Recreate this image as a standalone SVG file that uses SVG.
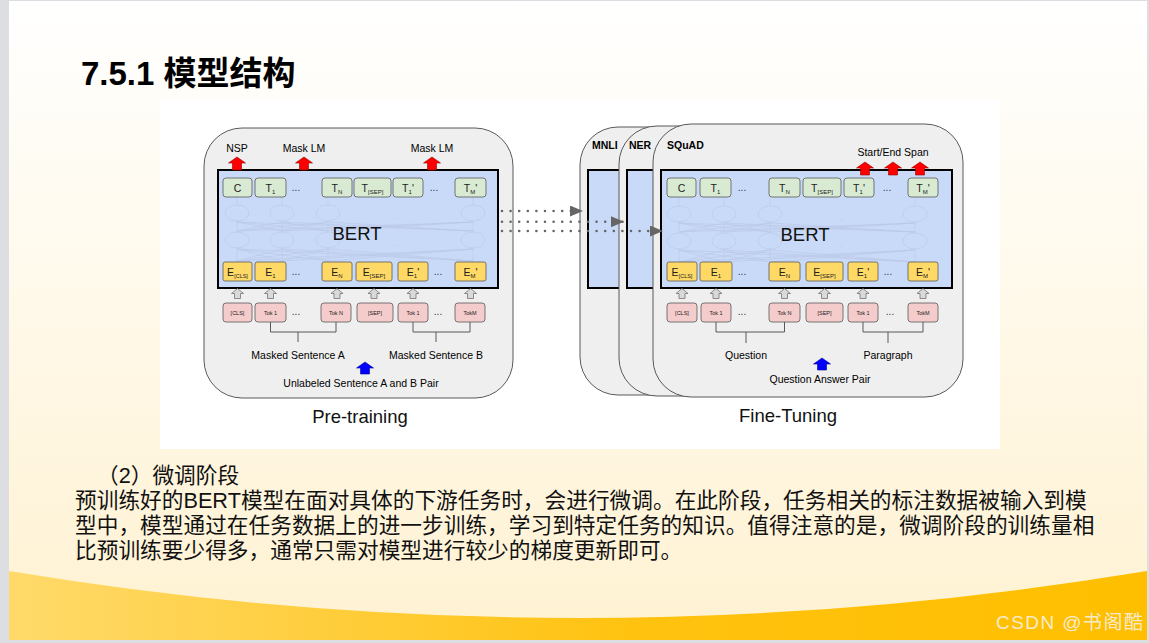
<svg xmlns="http://www.w3.org/2000/svg" width="1149" height="643" viewBox="0 0 1149 643">
<defs>
<style>
.card{fill:#efefef;stroke:#595959;stroke-width:1}
.bert{fill:#c9daf8;stroke:#000;stroke-width:2}
.gb{fill:#d9ead3;stroke:#595959;stroke-width:0.8}
.yb{fill:#ffd966;stroke:#595959;stroke-width:0.8}
.pb{fill:#f4cccc;stroke:#595959;stroke-width:0.8}
text{font-family:"Liberation Sans",Arial,"Noto Sans CJK SC",sans-serif;fill:#000}
.lbl{font-size:10.5px;text-anchor:middle}
.bx{font-size:10.5px;text-anchor:middle;fill:#222}
.tok{font-size:5.5px;text-anchor:middle;fill:#222}
.ell{font-size:10px;text-anchor:middle;fill:#333}
.big{font-size:18.5px;text-anchor:middle;fill:#111}
.hd{font-size:10.5px;font-weight:bold}
.net{stroke:#bac9e6;stroke-width:0.7;fill:none}
.dot{stroke:#666;stroke-width:2.6;stroke-linecap:round;stroke-dasharray:0 8.6;fill:none}
.red{fill:#ff0000;stroke:#990000;stroke-width:0.6}
.gra{fill:#d9d9d9;stroke:#666;stroke-width:0.7}
.blu{fill:#0000ff;stroke:#000099;stroke-width:0.6}
.brk{stroke:#595959;stroke-width:1;fill:none}
.body{font-family:"Liberation Sans","Noto Sans CJK SC",sans-serif;font-size:21.7px;fill:#111}
</style>
<linearGradient id="bg" x1="0" y1="0" x2="0" y2="1">
<stop offset="0" stop-color="#ffffff"/>
<stop offset="1" stop-color="#fff2d2"/>
</linearGradient>
<linearGradient id="band" x1="0" y1="0" x2="1" y2="0">
<stop offset="0" stop-color="#ffda6b"/>
<stop offset="0.55" stop-color="#ffc20f"/>
<stop offset="1" stop-color="#ffbf00"/>
</linearGradient>
<path id="ra" d="M0,0 L8.5,6 L4.5,6 L4.5,13 L-4.5,13 L-4.5,6 L-8.5,6 Z"/>
<path id="ga" d="M0,0 L6,5 L3,5 L3,10 L-3,10 L-3,5 L-6,5 Z"/>
<path id="ba" d="M0,0 L8.5,6 L4.5,6 L4.5,12 L-4.5,12 L-4.5,6 L-8.5,6 Z"/>
<marker id="ah" markerUnits="userSpaceOnUse" markerWidth="14" markerHeight="11" refX="13" refY="5.5" orient="auto">
<path d="M0,0 L13,5.5 L0,11 Z" fill="#666"/>
</marker>
<g id="net">
<g class="net">
<ellipse cx="237" cy="213" rx="12" ry="8"/><ellipse cx="282" cy="213" rx="12" ry="8"/><ellipse cx="328" cy="213" rx="12" ry="8"/><ellipse cx="473" cy="213" rx="12" ry="8"/>
<ellipse cx="237" cy="240" rx="12" ry="8"/><ellipse cx="282" cy="240" rx="12" ry="8"/><ellipse cx="328" cy="240" rx="12" ry="8"/><ellipse cx="473" cy="240" rx="12" ry="8"/>
<path d="M237,197V205M282,197V205M328,197V205M473,197V205M237,221V232M282,221V232M328,221V232M473,221V232M237,248V262M282,248V262M328,248V262M473,248V262"/>
<path d="M237,231L282,222M237,231L328,222M237,231L473,222M282,231L237,222M282,231L328,222M282,231L473,222M328,231L237,222M328,231L282,222M328,231L473,222M473,231L237,222M473,231L282,222M473,231L328,222"/>
<path d="M237,261L282,249M237,261L328,249M237,261L473,249M282,261L237,249M282,261L328,249M282,261L473,249M328,261L237,249M328,261L282,249M328,261L473,249M473,261L237,249M473,261L282,249M473,261L328,249"/>
</g>
<text x="398" y="219" style="font-size:8px;fill:#bac9e6;text-anchor:middle">...</text>
<text x="398" y="246" style="font-size:8px;fill:#bac9e6;text-anchor:middle">...</text>
</g>
</defs>

<rect x="0" y="0" width="1149" height="643" fill="#dcdee2"/>
<rect x="9" y="1" width="1138" height="639" fill="url(#bg)"/>
<path d="M9,571 Q578,665 1147,571 V640 H9 Z" fill="url(#band)"/>
<rect x="160" y="100" width="840" height="349" fill="#ffffff"/>

<text x="81" y="85" style="font-size:33px;font-weight:bold;fill:#000">7.5.1 模型结构</text>

<g id="pretraining">
<rect class="card" x="204" y="128" width="309" height="270" rx="38" ry="38"/>
<rect class="bert" x="218" y="170" width="280" height="118"/>
<use href="#net"/>
<text x="357" y="240" class="big">BERT</text>
<g id="pt-labels">
<text x="237" y="152" class="lbl">NSP</text>
<text x="304" y="152" class="lbl">Mask LM</text>
<text x="432" y="152" class="lbl">Mask LM</text>
<use href="#ra" class="red" x="237" y="157"/>
<use href="#ra" class="red" x="304" y="157"/>
<use href="#ra" class="red" x="432" y="157"/>
</g>
<g id="pt-t-c"><rect class="gb" x="223" y="178" width="29" height="19" rx="3"/><text class="bx" x="237.5" y="191.5">C</text></g>
<g id="pt-t-1"><rect class="gb" x="255" y="178" width="31" height="19" rx="3"/><text class="bx" x="270.5" y="191.5">T<tspan dy="2.5" style="font-size:6px">1</tspan></text></g>
<text class="ell" x="296" y="191">...</text>
<g id="pt-t-n"><rect class="gb" x="322" y="178" width="30" height="19" rx="3"/><text class="bx" x="337" y="191.5">T<tspan dy="2.5" style="font-size:6px">N</tspan></text></g>
<g id="pt-t-sep"><rect class="gb" x="354" y="178" width="37" height="19" rx="3"/><text class="bx" x="372.5" y="191.5">T<tspan dy="2.5" style="font-size:6px">[SEP]</tspan></text></g>
<g id="pt-t-1b"><rect class="gb" x="393" y="178" width="30" height="19" rx="3"/><text class="bx" x="408" y="191.5">T<tspan dy="2.5" style="font-size:6px">1</tspan><tspan dy="-2.5">'</tspan></text></g>
<text class="ell" x="434" y="191">...</text>
<g id="pt-t-m"><rect class="gb" x="455" y="178" width="31" height="19" rx="3"/><text class="bx" x="470.5" y="191.5">T<tspan dy="2.5" style="font-size:6px">M</tspan><tspan dy="-2.5">'</tspan></text></g>

<g id="pt-e-cls"><rect class="yb" x="223" y="262" width="29" height="19" rx="2"/><text class="bx" x="237.5" y="275.5">E<tspan dy="2.5" style="font-size:5.5px">[CLS]</tspan></text></g>
<g id="pt-e-1"><rect class="yb" x="255" y="262" width="31" height="19" rx="2"/><text class="bx" x="270.5" y="275.5">E<tspan dy="2.5" style="font-size:6px">1</tspan></text></g>
<text class="ell" x="296" y="275">...</text>
<g id="pt-e-n"><rect class="yb" x="322" y="262" width="30" height="19" rx="2"/><text class="bx" x="337" y="275.5">E<tspan dy="2.5" style="font-size:6px">N</tspan></text></g>
<g id="pt-e-sep"><rect class="yb" x="356" y="262" width="36" height="19" rx="2"/><text class="bx" x="374" y="275.5">E<tspan dy="2.5" style="font-size:6px">[SEP]</tspan></text></g>
<g id="pt-e-1b"><rect class="yb" x="398" y="262" width="30" height="19" rx="2"/><text class="bx" x="413" y="275.5">E<tspan dy="2.5" style="font-size:6px">1</tspan><tspan dy="-2.5">'</tspan></text></g>
<text class="ell" x="438" y="275">...</text>
<g id="pt-e-m"><rect class="yb" x="455" y="262" width="31" height="19" rx="2"/><text class="bx" x="470.5" y="275.5">E<tspan dy="2.5" style="font-size:6px">M</tspan><tspan dy="-2.5">'</tspan></text></g>

<g id="pt-up">
<use href="#ga" class="gra" x="237.5" y="288.5"/><use href="#ga" class="gra" x="270.5" y="288.5"/><use href="#ga" class="gra" x="337" y="288.5"/>
<use href="#ga" class="gra" x="374" y="288.5"/><use href="#ga" class="gra" x="413" y="288.5"/><use href="#ga" class="gra" x="470.5" y="288.5"/>
</g>

<g id="pt-tok-cls"><rect class="pb" x="223" y="303" width="29" height="19" rx="3"/><text class="tok" x="237.5" y="314.5">[CLS]</text></g>
<g id="pt-tok-1"><rect class="pb" x="255" y="303" width="31" height="19" rx="3"/><text class="tok" x="270.5" y="314.5">Tok 1</text></g>
<text class="ell" x="296" y="315">...</text>
<g id="pt-tok-n"><rect class="pb" x="321" y="303" width="30" height="19" rx="3"/><text class="tok" x="336" y="314.5">Tok N</text></g>
<g id="pt-tok-sep"><rect class="pb" x="357" y="303" width="36" height="19" rx="3"/><text class="tok" x="375" y="314.5">[SEP]</text></g>
<g id="pt-tok-1b"><rect class="pb" x="398" y="303" width="30" height="19" rx="3"/><text class="tok" x="413" y="314.5">Tok 1</text></g>
<text class="ell" x="438" y="315">...</text>
<g id="pt-tok-m"><rect class="pb" x="455" y="303" width="30" height="19" rx="3"/><text class="tok" x="470" y="314.5">TokM</text></g>

<path class="brk" d="M270.5,322V332H336V322M298,332V342M413,322V332H470V322M436,332V342"/>
<text class="lbl" x="298" y="359">Masked Sentence A</text>
<text class="lbl" x="436" y="359">Masked Sentence B</text>
<use href="#ba" class="blu" x="365" y="362"/>
<text class="lbl" x="361" y="387">Unlabeled Sentence A and B Pair</text>
</g>
<text x="360" y="423" class="big">Pre-training</text>

<g id="ft-mnli">
<rect class="card" x="580" y="127" width="310" height="268" rx="38" ry="38"/>
<rect class="bert" x="588" y="170" width="100" height="118"/>
<text class="hd" x="592" y="149">MNLI</text>
</g>
<g id="ft-ner">
<rect class="card" x="619" y="126" width="310" height="270" rx="38" ry="38"/>
<rect class="bert" x="627" y="170" width="100" height="118"/>
<text class="hd" x="629" y="149">NER</text>
</g>

<g id="ft-squad">
<rect class="card" x="653" y="124" width="310" height="273" rx="38" ry="38"/>
<rect class="bert" x="661" y="170" width="291" height="118"/>
<use href="#net" transform="translate(442,1)"/>
<text x="805" y="241" class="big">BERT</text>
<text class="hd" x="667" y="149">SQuAD</text>
<text class="lbl" x="893" y="156">Start/End Span</text>

<g id="ft-t-c"><rect class="gb" x="667" y="178" width="29" height="19" rx="3"/><text class="bx" x="681.5" y="191.5">C</text></g>
<g id="ft-t-1"><rect class="gb" x="700" y="178" width="31" height="19" rx="3"/><text class="bx" x="715.5" y="191.5">T<tspan dy="2.5" style="font-size:6px">1</tspan></text></g>
<text class="ell" x="742" y="191">...</text>
<g id="ft-t-n"><rect class="gb" x="769" y="178" width="31" height="19" rx="3"/><text class="bx" x="784.5" y="191.5">T<tspan dy="2.5" style="font-size:6px">N</tspan></text></g>
<g id="ft-t-sep"><rect class="gb" x="803" y="178" width="38" height="19" rx="3"/><text class="bx" x="822" y="191.5">T<tspan dy="2.5" style="font-size:6px">[SEP]</tspan></text></g>
<g id="ft-t-1b"><rect class="gb" x="844" y="178" width="30" height="19" rx="3"/><text class="bx" x="859" y="191.5">T<tspan dy="2.5" style="font-size:6px">1</tspan><tspan dy="-2.5">'</tspan></text></g>
<text class="ell" x="887" y="191">...</text>
<g id="ft-t-m"><rect class="gb" x="908" y="178" width="30" height="19" rx="3"/><text class="bx" x="923" y="191.5">T<tspan dy="2.5" style="font-size:6px">M</tspan><tspan dy="-2.5">'</tspan></text></g>

<g id="ft-e-cls"><rect class="yb" x="667" y="262" width="30" height="19" rx="2"/><text class="bx" x="682" y="275.5">E<tspan dy="2.5" style="font-size:5.5px">[CLS]</tspan></text></g>
<g id="ft-e-1"><rect class="yb" x="700" y="262" width="32" height="19" rx="2"/><text class="bx" x="716" y="275.5">E<tspan dy="2.5" style="font-size:6px">1</tspan></text></g>
<text class="ell" x="742" y="275">...</text>
<g id="ft-e-n"><rect class="yb" x="769" y="262" width="31" height="19" rx="2"/><text class="bx" x="784.5" y="275.5">E<tspan dy="2.5" style="font-size:6px">N</tspan></text></g>
<g id="ft-e-sep"><rect class="yb" x="806" y="262" width="37" height="19" rx="2"/><text class="bx" x="824.5" y="275.5">E<tspan dy="2.5" style="font-size:6px">[SEP]</tspan></text></g>
<g id="ft-e-1b"><rect class="yb" x="848" y="262" width="30" height="19" rx="2"/><text class="bx" x="863" y="275.5">E<tspan dy="2.5" style="font-size:6px">1</tspan><tspan dy="-2.5">'</tspan></text></g>
<text class="ell" x="888" y="275">...</text>
<g id="ft-e-m"><rect class="yb" x="908" y="262" width="30" height="19" rx="2"/><text class="bx" x="923" y="275.5">E<tspan dy="2.5" style="font-size:6px">M</tspan><tspan dy="-2.5">'</tspan></text></g>

<g id="ft-up">
<use href="#ga" class="gra" x="682" y="288.5"/><use href="#ga" class="gra" x="716" y="288.5"/><use href="#ga" class="gra" x="784.5" y="288.5"/>
<use href="#ga" class="gra" x="824.5" y="288.5"/><use href="#ga" class="gra" x="863" y="288.5"/><use href="#ga" class="gra" x="923" y="288.5"/>
</g>

<g id="ft-tok-cls"><rect class="pb" x="667" y="303" width="30" height="19" rx="3"/><text class="tok" x="682" y="314.5">[CLS]</text></g>
<g id="ft-tok-1"><rect class="pb" x="701" y="303" width="30" height="19" rx="3"/><text class="tok" x="716" y="314.5">Tok 1</text></g>
<text class="ell" x="742" y="315">...</text>
<g id="ft-tok-n"><rect class="pb" x="769" y="303" width="31" height="19" rx="3"/><text class="tok" x="784.5" y="314.5">Tok N</text></g>
<g id="ft-tok-sep"><rect class="pb" x="806" y="303" width="37" height="19" rx="3"/><text class="tok" x="824.5" y="314.5">[SEP]</text></g>
<g id="ft-tok-1b"><rect class="pb" x="848" y="303" width="30" height="19" rx="3"/><text class="tok" x="863" y="314.5">Tok 1</text></g>
<text class="ell" x="890" y="315">...</text>
<g id="ft-tok-m"><rect class="pb" x="908" y="303" width="30" height="19" rx="3"/><text class="tok" x="923" y="314.5">TokM</text></g>

<path class="brk" d="M716,322V332H784.5V322M746,332V343M863,322V332H923V322M888,332V343"/>
<text class="lbl" x="746" y="359">Question</text>
<text class="lbl" x="888" y="359">Paragraph</text>
<use href="#ba" class="blu" x="822" y="358"/>
<text class="lbl" x="820" y="383">Question Answer Pair</text>
<use href="#ra" class="red" x="865" y="162"/>
<use href="#ra" class="red" x="893" y="162"/>
<use href="#ra" class="red" x="920" y="162"/>
</g>
<text x="788" y="422" class="big">Fine-Tuning</text>

<g id="connectors">
<line class="dot" x1="502" y1="211" x2="583" y2="211" marker-end="url(#ah)"/>
<line class="dot" x1="502" y1="221.7" x2="624" y2="221.7" marker-end="url(#ah)"/>
<line class="dot" x1="502" y1="231" x2="663" y2="231" marker-end="url(#ah)"/>
</g>

<g id="body-text">
<text class="body" x="97" y="483">（2）微调阶段</text>
<text class="body" x="75" y="508">预训练好的BERT模型在面对具体的下游任务时，会进行微调。在此阶段，任务相关的标注数据被输入到模</text>
<text class="body" x="75" y="533">型中，模型通过在任务数据上的进一步训练，学习到特定任务的知识。值得注意的是，微调阶段的训练量相</text>
<text class="body" x="75" y="558">比预训练要少得多，通常只需对模型进行较少的梯度更新即可。</text>
</g>

<text x="996" y="629" textLength="147" style="font-family:'Liberation Sans','Noto Sans CJK SC',sans-serif;font-size:19px;fill:#f6f1e4;fill-opacity:0.9">CSDN @书阁酷</text>
</svg>
